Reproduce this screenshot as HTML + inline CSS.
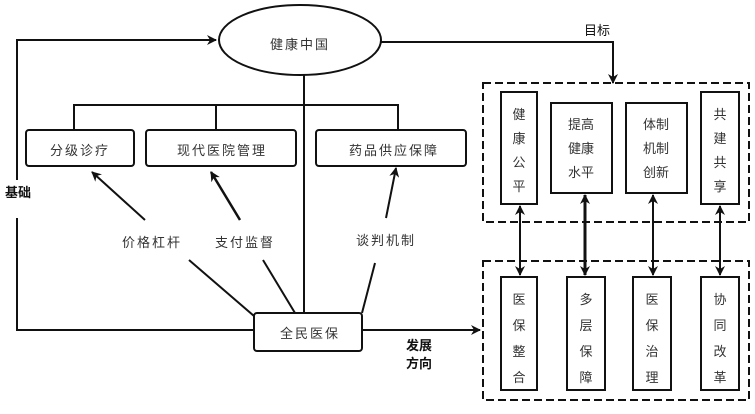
<!DOCTYPE html><html><head><meta charset="utf-8"><style>
body{margin:0;background:#fff}svg text{font-family:"Liberation Sans","Noto Sans CJK SC",sans-serif;font-size:13px;fill:#333}
</style></head><body>
<svg width="755" height="409" viewBox="0 0 755 409" xmlns="http://www.w3.org/2000/svg">
<defs><marker id="a" markerWidth="10" markerHeight="10" refX="9" refY="5" orient="auto" markerUnits="userSpaceOnUse"><path d="M0,0 L10,5 L0,10 L3,5 z" fill="#111"/></marker>
<marker id="b" markerWidth="10" markerHeight="10" refX="1" refY="5" orient="auto" markerUnits="userSpaceOnUse"><path d="M10,0 L0,5 L10,10 L7,5 z" fill="#111"/></marker></defs>
<g stroke="#111" stroke-width="2" fill="none">
<ellipse cx="300" cy="40" rx="81" ry="35" fill="#fff"/>
<path d="M74,130 V105 H398 V130 M216,105 V130"/>
<path d="M304,75 V313"/>
<rect x="26" y="130" width="108" height="36" rx="3" fill="#fff"/>
<rect x="146" y="130" width="150" height="36" rx="3" fill="#fff"/>
<rect x="316" y="130" width="150" height="36" rx="3" fill="#fff"/>
<rect x="254" y="313" width="108" height="38" rx="3" fill="#fff"/>
<path d="M17,218 V330 H254"/>
<path d="M17,180 V40 H216" marker-end="url(#a)"/>
<path d="M362,330 H480" marker-end="url(#a)"/>
<path d="M381,42 H613 V83" marker-end="url(#a)"/>
<path d="M145,220 L92,172" marker-end="url(#a)"/>
<path d="M189,260 L254,316"/>
<path d="M240,220 L211,172" stroke-width="2.5" marker-end="url(#a)"/>
<path d="M263,260 L295,313"/>
<path d="M386,218 L396,168" marker-end="url(#a)"/>
<path d="M375,263 L362,313"/>
<rect x="483" y="83" width="266" height="139" stroke-dasharray="8,4"/>
<rect x="483" y="261" width="266" height="139" stroke-dasharray="8,4"/>
<rect x="501" y="92" width="36" height="112"/>
<rect x="551" y="103" width="61" height="90"/>
<rect x="626" y="103" width="61" height="90"/>
<rect x="701" y="92" width="38" height="112"/>
<rect x="501" y="277" width="36" height="113"/>
<rect x="567" y="277" width="38" height="113"/>
<rect x="633" y="277" width="38" height="113"/>
<rect x="701" y="277" width="38" height="113"/>
<path d="M520,206 V275" marker-start="url(#b)" marker-end="url(#a)"/>
<path d="M585,195 V275" stroke-width="3" marker-start="url(#b)" marker-end="url(#a)"/>
<path d="M653,195 V275" marker-start="url(#b)" marker-end="url(#a)"/>
<path d="M720,206 V275" marker-start="url(#b)" marker-end="url(#a)"/>
</g>
<g text-anchor="middle">
<text x="300" y="49" style="letter-spacing:2px">健康中国</text>
<text x="80" y="155" style="letter-spacing:2px">分级诊疗</text>
<text x="222" y="155" style="letter-spacing:2px">现代医院管理</text>
<text x="394" y="155" style="letter-spacing:2px">药品供应保障</text>
<text x="152" y="247" style="letter-spacing:2px">价格杠杆</text>
<text x="245" y="247" style="letter-spacing:2px">支付监督</text>
<text x="386" y="245" style="letter-spacing:2px">谈判机制</text>
<text x="310" y="338" style="letter-spacing:2px">全民医保</text>
<text x="18" y="197" style="font-weight:bold;fill:#111">基础</text>
<text x="597" y="35" style="fill:#111">目标</text>
<text x="419" y="350" style="font-weight:bold;fill:#111">发展</text>
<text x="419" y="368" style="font-weight:bold;fill:#111">方向</text>
<text x="519" y="119">健</text><text x="519" y="143">康</text><text x="519" y="167">公</text><text x="519" y="191">平</text>
<text x="581" y="129">提高</text><text x="581" y="153">健康</text><text x="581" y="177">水平</text>
<text x="656" y="129">体制</text><text x="656" y="153">机制</text><text x="656" y="177">创新</text>
<text x="720" y="119">共</text><text x="720" y="143">建</text><text x="720" y="167">共</text><text x="720" y="191">享</text>
<text x="519" y="304">医</text><text x="519" y="330">保</text><text x="519" y="356">整</text><text x="519" y="382">合</text>
<text x="586" y="304">多</text><text x="586" y="330">层</text><text x="586" y="356">保</text><text x="586" y="382">障</text>
<text x="652" y="304">医</text><text x="652" y="330">保</text><text x="652" y="356">治</text><text x="652" y="382">理</text>
<text x="720" y="304">协</text><text x="720" y="330">同</text><text x="720" y="356">改</text><text x="720" y="382">革</text>
</g>
</svg></body></html>
